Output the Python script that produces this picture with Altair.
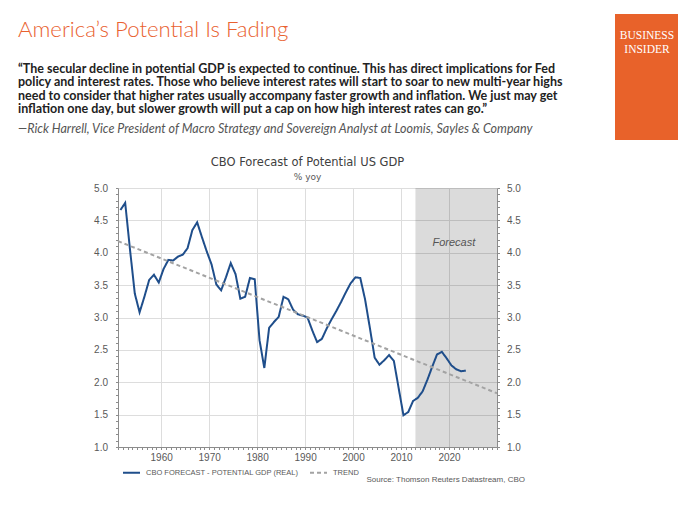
import altair as alt
import pandas as pd

# ---------------- data ----------------
years = list(range(1951, 2024))
gdp = [4.66, 4.77, 4.05, 3.37, 3.08, 3.32, 3.58, 3.66, 3.54,
       3.75, 3.89, 3.88, 3.94, 3.97, 4.07, 4.35, 4.47, 4.24, 4.02,
       3.82, 3.51, 3.42, 3.62, 3.84, 3.67, 3.29, 3.32, 3.61, 3.59,
       2.65, 2.22, 2.84, 2.93, 3.01, 3.32, 3.28, 3.12, 3.05, 3.03,
       3.00, 2.80, 2.62, 2.67, 2.83, 2.97, 3.10, 3.24, 3.39, 3.53,
       3.62, 3.61, 3.28, 2.84, 2.38, 2.27, 2.34, 2.42, 2.33, 1.91,
       1.49, 1.54, 1.71, 1.76, 1.86, 2.04, 2.24, 2.43, 2.47, 2.37,
       2.26, 2.20, 2.17, 2.18]
trend_years = [1951, 2030]
trend_vals = [4.18, 1.83]
forecast_start = [2013]
forecast_end = [2030]
forecast_label_year = [2021]
forecast_label_val = [4.15]

S1 = "CBO FORECAST - POTENTIAL GDP (REAL)"
S2 = "TREND"

y_ticks = [round(1 + 0.1 * i, 1) for i in range(41)]
x_ticks = list(range(1951, 2031))
x_labels_last = 2020

title_text = "America\u2019s Potential Is Fading"
quote_lines = [
    "\u201cThe secular decline in potential GDP is expected to continue. This has direct implications for Fed",
    "policy and interest rates. Those who believe interest rates will start to soar to new multi-year highs",
    "need to consider that higher rates usually accompany faster growth and inflation. We just may get",
    "inflation one day, but slower growth will put a cap on how high interest rates can go.\u201d",
]
attribution = "\u2014Rick Harrell, Vice President of Macro Strategy and Sovereign Analyst at Loomis, Sayles & Company"
chart_title = "CBO Forecast of Potential US GDP"
chart_sub = "% yoy"
source_text = "Source: Thomson Reuters Datastream, CBO"

# ---------------- tables ----------------
df = pd.concat([
    pd.DataFrame({"x": [y + 0.5 for y in years], "value": gdp, "series": S1}),
    pd.DataFrame({"x": trend_years, "value": trend_vals, "series": S2}),
], ignore_index=True)
shade_df = pd.DataFrame({"start": forecast_start, "end": forecast_end})
flabel_df = pd.DataFrame({"x": forecast_label_year, "y": forecast_label_val, "t": ["Forecast"]})
one = pd.DataFrame({"a": [0]})

W, H = 379, 259
AX = "#8C8C8C"
LAB = "#595959"
FONT = "Liberation Sans"

xscale = alt.Scale(domain=[1951, 2030], nice=False, zero=False)
yscale = alt.Scale(domain=[1, 5], nice=False, zero=False)

major_y = "abs(datum.value*2 - round(datum.value*2)) < 0.001"
major_x = "datum.value % 10 == 0"

x_axis = alt.Axis(
    values=x_ticks,
    labelExpr=f"({major_x}) && datum.value <= {x_labels_last} ? format(datum.value, 'd') : ''",
    labelOverlap=False, labelFlush=False, grid=True, gridColor="#DDDDDD",
    gridOpacity={"condition": {"test": major_x, "value": 1}, "value": 0},
    tickSize=2.5, tickColor=AX, domainColor=AX, labelPadding=3,
    labelColor=LAB, labelFont=FONT, labelFontSize=10, title=None, offset=0)

y_axis_left = alt.Axis(
    orient="left", values=y_ticks,
    labelExpr=f"{major_y} ? format(datum.value, '.1f') : ''",
    labelOverlap=False, grid=True, gridColor="#DDDDDD",
    gridOpacity={"condition": {"test": major_y, "value": 1}, "value": 0},
    tickSize=2.5, tickColor=AX, domainColor=AX, labelPadding=8,
    labelColor=LAB, labelFont=FONT, labelFontSize=10, title=None, offset=0)

y_axis_right = alt.Axis(
    orient="right", values=y_ticks,
    labelExpr=f"{major_y} ? format(datum.value, '.1f') : ''",
    labelOverlap=False, grid=False,
    tickSize=2.5, tickColor=AX, domainColor=AX, labelPadding=7,
    labelColor=LAB, labelFont=FONT, labelFontSize=10, title=None, offset=0)

legend = alt.Legend(
    orient="none", legendX=4, legendY=275, direction="horizontal", title=None,
    symbolType="stroke", symbolSize=289, symbolStrokeWidth=2,
    labelFont=FONT, labelFontSize=7.5, labelColor=LAB, labelOffset=5,
    columnPadding=7, labelLimit=0)

shade = alt.Chart(shade_df).mark_rect(color="#000000", opacity=0.14).encode(
    x=alt.X("start:Q", scale=xscale, axis=None),
    x2="end:Q",
    y=alt.Y(datum=5, scale=yscale, axis=y_axis_right),
    y2=alt.Y2(datum=1),
)

lines = alt.Chart(df).mark_line(strokeWidth=2).encode(
    x=alt.X("x:Q", scale=xscale, axis=x_axis),
    y=alt.Y("value:Q", scale=yscale, axis=y_axis_left),
    color=alt.Color("series:N", scale=alt.Scale(domain=[S1, S2], range=["#1F4E8B", "#A3A3A3"]), legend=legend),
    strokeDash=alt.StrokeDash("series:N", scale=alt.Scale(domain=[S1, S2], range=[[1, 0], [4, 3]]), legend=legend),
)

flabel = alt.Chart(flabel_df).mark_text(
    font=FONT, fontSize=11, fontStyle="italic", color="#555555", align="center", baseline="middle"
).encode(
    x=alt.X("x:Q", scale=xscale, axis=None),
    y=alt.Y("y:Q", scale=yscale, axis=None),
    text="t:N",
)

def txt(text, x, y, **kw):
    return alt.Chart(one).mark_text(**kw).encode(
        x=alt.value(x), y=alt.value(y), text=alt.value(text))

headline = txt(title_text, -100, -151.5, font="Lato", fontWeight=300, fontSize=22.2,
               color="#E9612F", align="left", baseline="alphabetic")
quote = txt(quote_lines, -100, -115.5, font="Lato", fontWeight="bold", fontSize=12.5,
            color="#222222", align="left", baseline="alphabetic", lineHeight=13.6)
attrib = txt(attribution, -100, -55.5, font="Lato", fontStyle="italic", fontSize=12.5,
             color="#555555", align="left", baseline="alphabetic")

logo = alt.Chart(one).mark_rect(color="#E8622A").encode(
    x=alt.value(497), x2=alt.value(560), y=alt.value(-174), y2=alt.value(-48))
logo1 = txt("BUSINESS", 529, -148.7, font="Liberation Serif", fontSize=11.5,
            color="#FFFFFF", align="center", baseline="alphabetic")
logo2 = txt("INSIDER", 529, -134.7, font="Liberation Serif", fontSize=11.5,
            color="#FFFFFF", align="center", baseline="alphabetic")

ctitle = txt(chart_title, W / 2, -25, font="DejaVu Sans", fontSize=11.5,
             color="#404040", align="center", baseline="middle")
csub = txt(chart_sub, W / 2, -11, font="DejaVu Sans", fontSize=9,
           color="#595959", align="center", baseline="middle")
source = txt(source_text, 407, 292, font=FONT, fontSize=8,
             color=LAB, align="right", baseline="middle")

chart = alt.layer(
    shade, lines, flabel, headline, quote, attrib, logo, logo1, logo2, ctitle, csub, source
).resolve_axis(y="independent", x="independent").properties(
    width=W, height=H,
    autosize=alt.AutoSizeParams(type="none"),
    padding={"left": 110, "top": 180, "right": 195, "bottom": 70},
).configure_view(stroke=None)

chart.save("out.html", embed_options={"renderer": "svg", "actions": False})
